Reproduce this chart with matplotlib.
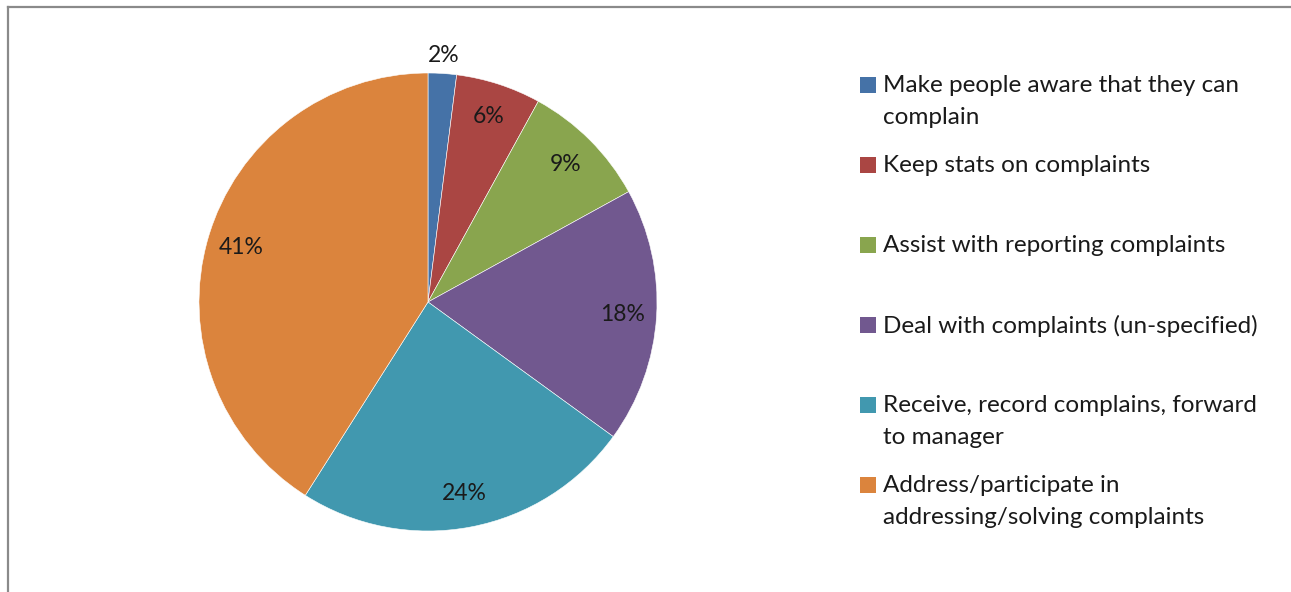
import matplotlib
matplotlib.use('Agg')
import matplotlib.pyplot as plt
from matplotlib.lines import Line2D
from matplotlib.patches import Rectangle

plt.rcParams['font.family'] = ['Lato', 'DejaVu Sans']

LABELS = ['Make people aware that they can\ncomplain',
          'Keep stats on complaints',
          'Assist with reporting complaints',
          'Deal with complaints (un-specified)',
          'Receive, record complains, forward\nto manager',
          'Address/participate in\naddressing/solving complaints']
SHARES = [2, 6, 9, 18, 24, 41]
COLORS = ['#4572A7', '#AA4643', '#89A54E', '#71588F', '#4198AF', '#DB843D']

W, H = 1291, 592
fig = plt.figure(figsize=(W / 100, H / 100), dpi=100)

# chart frame (left and top edges visible)
fig.add_artist(Line2D([8 / W, 8 / W], [0, 1 - 7 / H], color='#8a8a8a', lw=1.6))
fig.add_artist(Line2D([8 / W, 1], [1 - 7 / H, 1 - 7 / H], color='#8a8a8a', lw=1.6))

cx, cy, r = 428, 302, 229
ax = fig.add_axes([(cx - r) / W, (H - cy - r) / H, 2 * r / W, 2 * r / H])
wedges, texts, autotexts = ax.pie(SHARES, colors=COLORS, startangle=90, counterclock=False,
                                  autopct='%d%%', pctdistance=0.85,
                                  wedgeprops={'edgecolor': 'white', 'linewidth': 0.4},
                                  textprops={'fontsize': 16.5, 'color': '#1a1a1a'})
ax.set_xlim(-1, 1)
ax.set_ylim(-1, 1)
ax.set_aspect('equal')

# small slice gets its label outside the pie
t = autotexts[0]
x, y = t.get_position()
t.set_position((x / 0.85 * 1.08, y / 0.85 * 1.08))

# legend
lx, ly0, step = 860, 85, 80
for i, (lab, col) in enumerate(zip(LABELS, COLORS)):
    y = ly0 + i * step
    fig.add_artist(Rectangle((lx / W, 1 - (y + 8) / H), 16 / W, 16 / H,
                             transform=fig.transFigure, facecolor=col, edgecolor='none'))
    fig.text(883 / W, 1 - (y - 10) / H, lab, fontsize=17.5, color='#1a1a1a',
             ha='left', va='top', linespacing=1.62)

fig.savefig('out.png', dpi=100)
